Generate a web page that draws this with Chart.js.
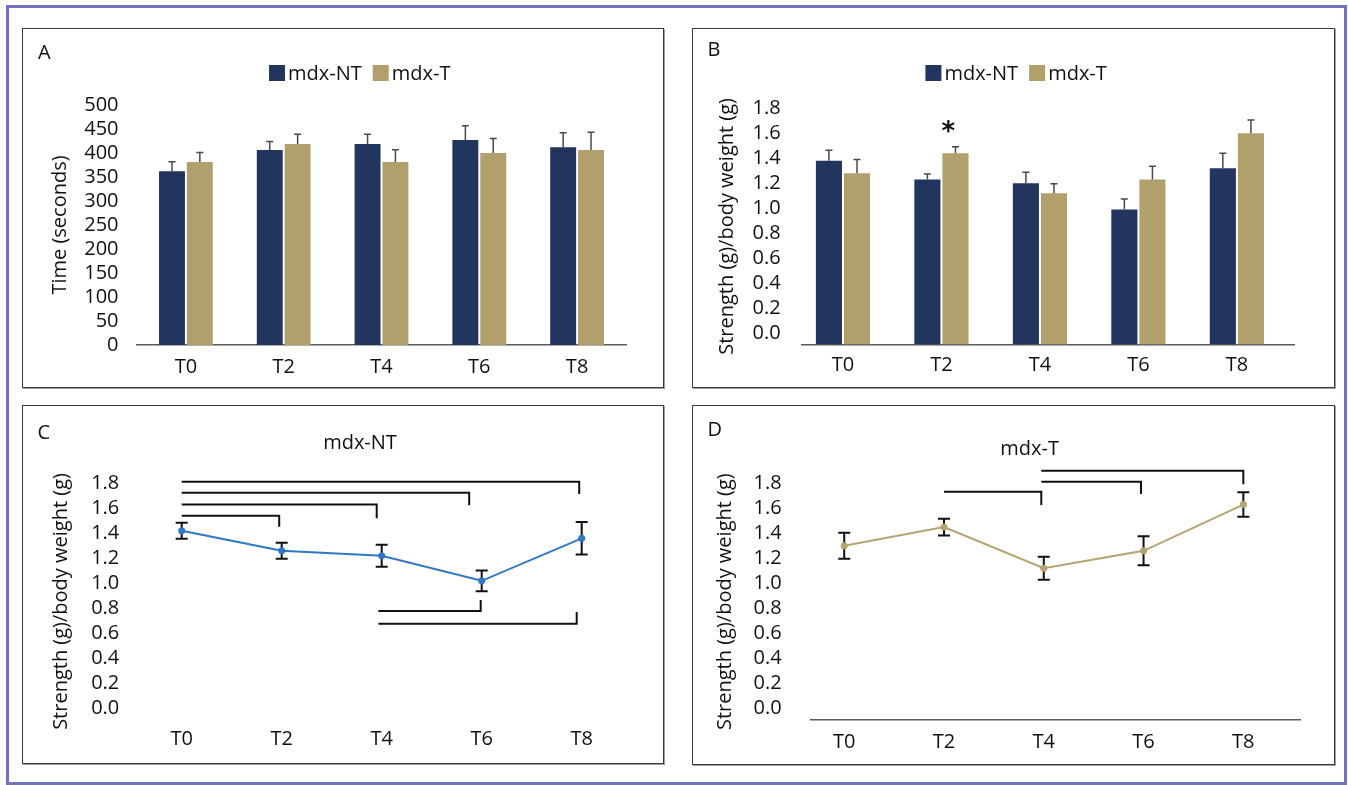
<!DOCTYPE html>
<html>
<head>
<meta charset="utf-8">
<title>mdx-NT vs mdx-T</title>
<script src="https://cdn.jsdelivr.net/npm/chart.js@4.4.1/dist/chart.umd.min.js"></script>
<style>
  body { margin: 0; background: #fff; width: 1348px; height: 785px; position: relative; overflow: hidden; }
  #frame { position: absolute; left: 6px; top: 5px; width: 1335px; height: 774px; border: 3px solid #7373bd; }
  .panel { position: absolute; box-sizing: border-box; border: 1px solid #3a3a3a; box-shadow: 1px 1px 0 #a0a0a0; }
  .panel canvas { position: absolute; left: -1px; top: -1px; }
</style>
</head>
<body>
<div id="frame"></div>
<div class="panel" style="left:22px;top:28px;width:642px;height:360px"><canvas id="chartA" width="642" height="360"></canvas></div>
<div class="panel" style="left:692px;top:28px;width:643px;height:360px"><canvas id="chartB" width="643" height="360"></canvas></div>
<div class="panel" style="left:22px;top:405px;width:642px;height:359px"><canvas id="chartC" width="642" height="359"></canvas></div>
<div class="panel" style="left:692px;top:405px;width:643px;height:360px"><canvas id="chartD" width="643" height="360"></canvas></div>

<script>
// ---------- data ----------
const timepoints = ['T0', 'T2', 'T4', 'T6', 'T8'];
const seriesNames = ['mdx-NT', 'mdx-T'];

// A - time (seconds)
const timeNT = [362, 406, 419, 427, 412];
const timeNTErr = [20, 18, 20, 30, 30];
const timeT = [381, 419, 381, 400, 406];
const timeTErr = [20, 20, 26, 30, 37];
const timeTicks = [0, 50, 100, 150, 200, 250, 300, 350, 400, 450, 500];

// B - strength / body weight
const strengthNT = [1.38, 1.23, 1.20, 0.99, 1.32];
const strengthNTErr = [0.085, 0.045, 0.088, 0.085, 0.12];
const strengthT = [1.28, 1.44, 1.12, 1.23, 1.60];
const strengthTErr = [0.11, 0.053, 0.077, 0.106, 0.106];
const strengthTicks = [0, 0.2, 0.4, 0.6, 0.8, 1.0, 1.2, 1.4, 1.6, 1.8];
const starsB = [{ x: 1.07, y: 1.667 }];

// C - mdx-NT over time, brackets = [from, to, level, end]
const lineNT = [1.42, 1.26, 1.22, 1.02, 1.36];
const lineNTErr = [0.064, 0.064, 0.088, 0.083, 0.13];
const bracketsNT = [
  [0, 0.975, 1.541, 1.453],
  [0, 1.95, 1.631, 1.52],
  [0, 2.875, 1.725, 1.624],
  [0, 3.975, 1.813, 1.715],
  [1.967, 2.99, 0.779, 0.867],
  [1.967, 3.95, 0.677, 0.771]
];

// D - mdx-T over time
const lineT = [1.30, 1.45, 1.12, 1.26, 1.63];
const lineTErr = [0.104, 0.067, 0.092, 0.116, 0.098];
const bracketsT = [
  [1, 1.975, 1.733, 1.626],
  [1.975, 2.974, 1.813, 1.714],
  [1.975, 4.0, 1.901, 1.792]
];

// ---------- styles ----------
const NAVY = '#21355f';
const TAN = '#b2a06c';
const BLUE = '#2f79c4';
const LINE_TAN = '#b5a470';
const INK = '#111111';

Chart.defaults.font.family = '"Open Sans", sans-serif';
Chart.defaults.color = INK;
Chart.defaults.animation = false;

function toXY(values) {
  return values.map((v, i) => ({ x: i, y: v }));
}

// error bars drawn through the y scale
const errorBars = {
  id: 'errorBars',
  draw(chart, opts) {
    const ctx = chart.ctx;
    const y = chart.scales.y;
    chart.data.datasets.forEach((ds, di) => {
      if (!ds.errors) return;
      chart.getDatasetMeta(di).data.forEach((el, i) => {
        const v = ds.data[i].y;
        const e = ds.errors[i];
        const top = y.getPixelForValue(v + e);
        const bot = opts.both ? y.getPixelForValue(v - e) : el.y;
        ctx.save();
        ctx.strokeStyle = opts.color;
        ctx.lineWidth = opts.width;
        ctx.beginPath();
        ctx.moveTo(el.x, top);
        ctx.lineTo(el.x, bot);
        ctx.moveTo(el.x - opts.cap, top);
        ctx.lineTo(el.x + opts.cap, top);
        if (opts.both) {
          ctx.moveTo(el.x - opts.cap, bot);
          ctx.lineTo(el.x + opts.cap, bot);
        }
        ctx.stroke();
        ctx.restore();
      });
    });
  },
  beforeDatasetsDraw(chart, args, opts) { if (opts.behind) this.draw(chart, opts); },
  afterDatasetsDraw(chart, args, opts) { if (!opts.behind) this.draw(chart, opts); }
};

// panel letter, legend, title, significance stars
const panelText = {
  id: 'panelText',
  afterDraw(chart, args, o) {
    const ctx = chart.ctx;
    ctx.save();
    ctx.fillStyle = INK;
    ctx.textBaseline = 'middle';
    ctx.textAlign = 'left';
    ctx.font = '20px "Open Sans"';
    ctx.fillText(o.letter, o.letterX, o.letterY);
    if (o.title) {
      ctx.textAlign = 'center';
      ctx.fillText(o.title, o.titleX, o.titleY);
    }
    if (o.legendX != null) {
      let x = o.legendX;
      ctx.textAlign = 'left';
      chart.data.datasets.forEach(ds => {
        ctx.fillStyle = ds.backgroundColor;
        ctx.fillRect(x, o.legendY - 8, 16, 16);
        x += 19;
        ctx.fillStyle = INK;
        ctx.fillText(ds.label, x, o.legendY + 1);
        x += ctx.measureText(ds.label).width + 11;
      });
    }
    if (o.stars) {
      ctx.font = 'bold 26px "DejaVu Sans"';
      ctx.textAlign = 'center';
      ctx.textBaseline = 'alphabetic';
      o.stars.forEach(s => {
        const px = chart.scales.x.getPixelForValue(s.x);
        const py = chart.scales.y.getPixelForValue(s.y);
        ctx.fillText('*', px, py + 15);
      });
    }
    ctx.restore();
  }
};

function xAxis(min, max, pad, height, showLine) {
  return {
    type: 'linear',
    min: min,
    max: max,
    offset: false,
    grid: { display: false, drawTicks: false },
    border: { display: showLine, color: '#5a5a5a', width: 1.5 },
    afterBuildTicks: s => { s.ticks = timepoints.map((t, i) => ({ value: i })); },
    afterFit: s => { s.height = height; },
    ticks: { autoSkip: false, maxRotation: 0, padding: pad, font: { size: 20 }, callback: v => timepoints[v] }
  };
}

function yAxis(min, max, tickValues, decimals, pad, width, title) {
  return {
    min: min,
    max: max,
    grid: { display: false, drawTicks: false },
    border: { display: false },
    afterBuildTicks: s => { s.ticks = tickValues.map(v => ({ value: v })); },
    afterFit: s => { s.width = width; },
    ticks: { autoSkip: false, padding: pad, font: { size: 20 }, callback: v => v.toFixed(decimals) },
    title: { display: true, text: title, padding: 0, font: { size: 20 } }
  };
}

const strengthTitle = 'Strength (g)/body weight (g)';

// ---------- A ----------
new Chart(document.getElementById('chartA'), {
  type: 'bar',
  data: {
    datasets: [
      { label: seriesNames[0], data: toXY(timeNT), errors: timeNTErr, backgroundColor: NAVY, categoryPercentage: 0.57, barPercentage: 0.93 },
      { label: seriesNames[1], data: toXY(timeT), errors: timeTErr, backgroundColor: TAN, categoryPercentage: 0.57, barPercentage: 0.93 }
    ]
  },
  options: {
    responsive: false,
    events: [],
    layout: { padding: { left: 26, right: 38, top: 77, bottom: 0 } },
    scales: {
      x: xAxis(-0.5, 4.5, 10.5, 43, true),
      y: yAxis(0, 500, timeTicks, 0, 18.5, 89, 'Time (seconds)')
    },
    plugins: {
      legend: { display: false },
      tooltip: { enabled: false },
      errorBars: { color: '#4a4a4a', width: 1.5, cap: 3.5, both: false },
      panelText: { letter: 'A', letterX: 16, letterY: 25.5, legendX: 247, legendY: 45 }
    }
  },
  plugins: [errorBars, panelText]
});

// ---------- B ----------
const strengthMin = -0.09;
new Chart(document.getElementById('chartB'), {
  type: 'bar',
  data: {
    datasets: [
      { label: seriesNames[0], data: toXY(strengthNT), errors: strengthNTErr, base: strengthMin, backgroundColor: NAVY, categoryPercentage: 0.57, barPercentage: 0.93 },
      { label: seriesNames[1], data: toXY(strengthT), errors: strengthTErr, base: strengthMin, backgroundColor: TAN, categoryPercentage: 0.57, barPercentage: 0.93 }
    ]
  },
  options: {
    responsive: false,
    events: [],
    layout: { padding: { left: 23.5, right: 41, top: 80.3, bottom: 0 } },
    scales: {
      x: xAxis(-0.416, 4.58, 8.5, 43.5, true),
      y: yAxis(strengthMin, 1.8, strengthTicks, 1, 21.3, 86.5, strengthTitle)
    },
    plugins: {
      legend: { display: false },
      tooltip: { enabled: false },
      errorBars: { color: '#4a4a4a', width: 1.5, cap: 3.5, both: false },
      panelText: { letter: 'B', letterX: 15.5, letterY: 22, legendX: 233.4, legendY: 45, stars: starsB }
    }
  },
  plugins: [errorBars, panelText]
});

// ---------- line panels ----------
function bracketSets(list) {
  return list.map(b => ({
    data: [{ x: b[0], y: b[2] }, { x: b[1], y: b[2] }, { x: b[1], y: b[3] }],
    borderColor: INK,
    borderWidth: 2,
    pointRadius: 0,
    tension: 0,
    clip: false
  }));
}

function lineChart(id, values, errors, color, brackets, layout, x, y, text) {
  new Chart(document.getElementById(id), {
    type: 'line',
    data: {
      datasets: [
        { data: toXY(values), errors: errors, borderColor: color, backgroundColor: color, borderWidth: 2, pointRadius: 3.5, pointBorderWidth: 0, tension: 0 }
      ].concat(bracketSets(brackets))
    },
    options: {
      responsive: false,
      events: [],
      layout: { padding: layout },
      scales: { x: x, y: y },
      plugins: {
        legend: { display: false },
        tooltip: { enabled: false },
        errorBars: { color: INK, width: 2, cap: 6, both: true, behind: true },
        panelText: text
      }
    },
    plugins: [errorBars, panelText]
  });
}

// ---------- C ----------
lineChart('chartC', lineNT, lineNTErr, BLUE, bracketsNT,
  { left: 27.5, right: 32.3, top: 78.3, bottom: 0 },
  xAxis(-0.5, 4.5, 7.4, 44.4, false),
  yAxis(-0.09, 1.8, strengthTicks, 1, 12.4, 82.2, strengthTitle),
  { letter: 'C', letterX: 15.5, letterY: 28, title: seriesNames[0], titleX: 338, titleY: 38 });

// ---------- D ----------
lineChart('chartD', lineT, lineTErr, LINE_TAN, bracketsT,
  { left: 21, right: 34.4, top: 78.3, bottom: 0 },
  xAxis(-0.333, 4.574, 10.3, 45, true),
  yAxis(-0.094, 1.8, strengthTicks, 1, 29.3, 98, strengthTitle),
  { letter: 'D', letterX: 15.5, letterY: 25, title: seriesNames[1], titleX: 337.6, titleY: 44 });
</script>
</body>
</html>
